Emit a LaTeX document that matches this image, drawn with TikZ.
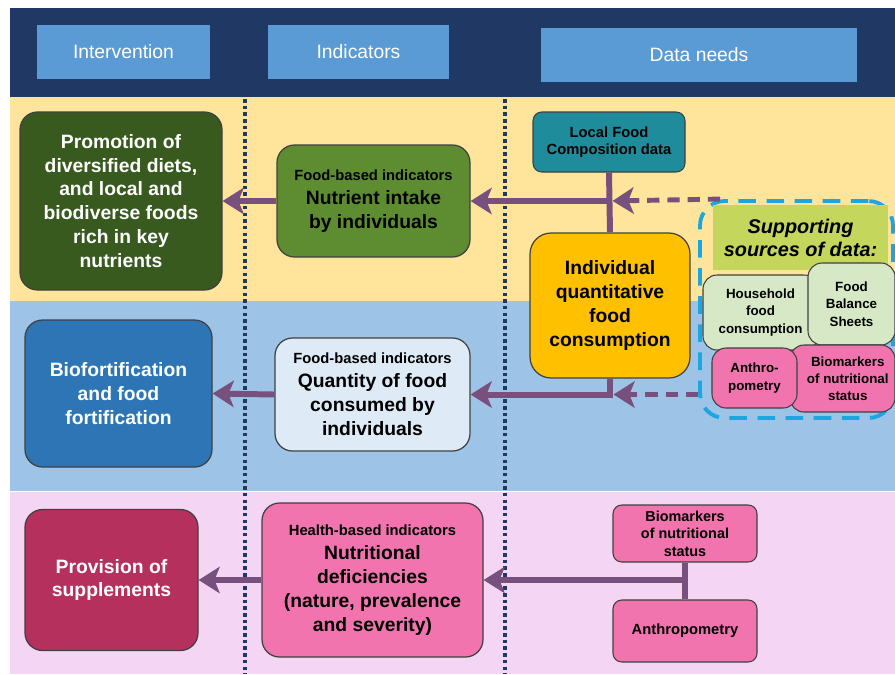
\documentclass[tikz,border=0pt]{standalone}
\usepackage{fontspec}
\setmainfont{Liberation Sans}
\usetikzlibrary{calc,arrows.meta}

\definecolor{navy}{HTML}{1F3864}
\definecolor{headblue}{HTML}{5B9BD5}
\definecolor{bandyellow}{HTML}{FFE59C}
\definecolor{bandblue}{HTML}{9DC3E6}
\definecolor{bandpink}{HTML}{F4D6F4}
\definecolor{darkgreen}{HTML}{385A1F}
\definecolor{midgreen}{HTML}{5E8C31}
\definecolor{teal}{HTML}{1F8C9C}
\definecolor{amber}{HTML}{FFC000}
\definecolor{olive}{HTML}{C4D65C}
\definecolor{palegreen}{HTML}{D6E8C6}
\definecolor{rosepink}{HTML}{F274AE}
\definecolor{deepblue}{HTML}{2E75B6}
\definecolor{paleblue}{HTML}{DEEBF7}
\definecolor{magenta}{HTML}{B6305E}
\definecolor{boxline}{HTML}{404040}
\definecolor{arrowpurple}{HTML}{77507E}
\definecolor{dashcyan}{HTML}{1CA6E0}

\newcommand{\tagfont}{\fontsize{8.4}{10}\selectfont}

\begin{document}
\begin{tikzpicture}[x=0.02cm, y=-0.02cm]
\def\u{0.02cm}
%styles
\tikzstyle{headbox}=[rectangle, fill=headblue, text=white, inner sep=0pt, font=\fontsize{11}{13}\selectfont]
\tikzstyle{bigbox}=[rectangle, rounded corners=10pt, draw=boxline, line width=0.7pt, align=center, inner sep=0pt, font=\bfseries\fontsize{11}{13.6}\selectfont]
\tikzstyle{smallbox}=[rectangle, rounded corners=5pt, draw=boxline, line width=0.6pt, align=center, inner sep=0pt, font=\bfseries\fontsize{7.6}{9.8}\selectfont]
\tikzstyle{dotline}=[navy, line width=2.2pt, dash pattern=on 2pt off 1.8pt]
\tikzstyle{link}=[draw=arrowpurple, line width=3.4pt]
\tikzstyle{vector}=[link, -{Stealth[length=12pt, width=15pt, inset=3pt]}]
\tikzstyle{dashvector}=[vector, line width=2.8pt, dash pattern=on 7pt off 4.5pt, shorten >=2pt]

\useasboundingbox (0,0) rectangle (895,674);

%bands
\fill[navy] (10,8) rectangle (895,97);
\fill[bandyellow] (10,97) rectangle (895,301);
\fill[bandblue] (10,301) rectangle (895,491);
\fill[bandpink] (10,492) rectangle (895,674);
\draw[dotline] (245,99) -- (245,674);
\draw[dotline] (505,99) -- (505,674);

%headers
\node[headbox, minimum width=173*\u, minimum height=54*\u] (hInt) at (123.5,52) {Intervention};
\node[headbox, minimum width=181*\u, minimum height=54*\u] (hInd) at (358.5,52) {Indicators};
\node[headbox, minimum width=316*\u, minimum height=54*\u] (hDat) at (699,55) {Data needs};

%interventions
\node[bigbox, fill=darkgreen, text=white, minimum width=202*\u, minimum height=178*\u] (promo) at (121,201)
  {Promotion of\\diversified diets,\\and local and\\biodiverse foods\\rich in key\\nutrients};
\node[bigbox, fill=deepblue, text=white, minimum width=187*\u, minimum height=147*\u] (biof) at (118.5,393.5)
  {Biofortification\\and food\\fortification};
\node[bigbox, fill=magenta, text=white, minimum width=173*\u, minimum height=141*\u] (prov) at (111.5,580)
  {Provision of\\supplements};

%indicators
\node[bigbox, fill=midgreen, minimum width=193*\u, minimum height=112*\u] (nut) at (373.5,201)
  {{\tagfont Food-based indicators}\\Nutrient intake\\by individuals};
\node[bigbox, fill=paleblue, minimum width=195*\u, minimum height=113*\u] (qty) at (372.5,394.5)
  {{\tagfont Food-based indicators}\\Quantity of food\\consumed by\\individuals};
\node[bigbox, fill=rosepink, minimum width=221*\u, minimum height=154*\u] (health) at (372.5,580)
  {{\tagfont Health-based indicators}\\Nutritional\\deficiencies\\(nature, prevalence\\and severity)};

%data needs
\node[smallbox, fill=teal, minimum width=152*\u, minimum height=60*\u, font=\bfseries\fontsize{8.4}{10}\selectfont] (lfc) at (609,142)
  {Local Food\\Composition data};
\node[bigbox, fill=amber, rounded corners=12pt, minimum width=160*\u, minimum height=145*\u] (ifc) at (610,305.5)
  {Individual\\quantitative\\food\\consumption};
\node[rectangle, draw=dashcyan, line width=2.2pt, dash pattern=on 10pt off 6pt, rounded corners=14pt, minimum width=193*\u, minimum height=217*\u] (sup) at (796.5,309.5) {};
\node[rectangle, fill=olive, align=center, inner sep=0pt, minimum width=175*\u, minimum height=65*\u, font=\bfseries\itshape\fontsize{11.3}{13}\selectfont] (suplab) at (800.5,237.5)
  {Supporting\\sources of data:};
\node[smallbox, fill=palegreen, rounded corners=8pt, minimum width=115*\u, minimum height=75*\u] (hh) at (760.5,312.5)
  {Household\\food\\consumption};
\node[smallbox, fill=palegreen, rounded corners=8pt, minimum width=87*\u, minimum height=82*\u] (fbs) at (851.5,304)
  {Food\\Balance\\Sheets};
\node[smallbox, fill=rosepink, rounded corners=8pt, minimum width=105*\u, minimum height=67*\u] (bmS) at (842.5,378.5)
  {\hspace*{6pt}Biomarkers\\\hspace*{6pt}of nutritional\\\hspace*{6pt}status};
\node[smallbox, fill=rosepink, rounded corners=8pt, minimum width=85*\u, minimum height=60*\u] (anS) at (754.5,378)
  {Anthro-\\pometry};
\node[smallbox, fill=rosepink, minimum width=144*\u, minimum height=57*\u, font=\bfseries\fontsize{8.2}{10}\selectfont] (bio) at (685,533.5)
  {Biomarkers\\of nutritional\\status};
\node[smallbox, fill=rosepink, minimum width=144*\u, minimum height=62*\u, font=\bfseries\fontsize{8.4}{10}\selectfont] (anth) at (685,631)
  {Anthropometry};

%connectors
\coordinate (jTop) at (lfc.south |- nut.east);
\coordinate (jMid) at (ifc.south |- qty.east);
\coordinate (jLow) at (bio.south |- health.east);
\coordinate (dTop) at ($(sup.north west)+(22,0)$);
\coordinate (dMid) at (sup.west |- jMid);
\draw[link] (lfc.south) -- (ifc.north);
\draw[link] (ifc.south) -- ($(jMid)+(0,3)$);
\draw[link] (bio.south) -- (anth.north);
\draw[vector] (jTop) -- (nut.east);
\draw[vector] (jMid) -- (qty.east);
\draw[vector] (jLow) -- (health.east);
\draw[dashvector] (dTop) -- (jTop);
\draw[dashvector] (dMid) -- (jMid);
\draw[vector] (nut.west) -- (promo.east);
\draw[vector] (qty.west) -- (biof.east);
\draw[vector] (health.west) -- (prov.east);

\end{tikzpicture}
\end{document}
